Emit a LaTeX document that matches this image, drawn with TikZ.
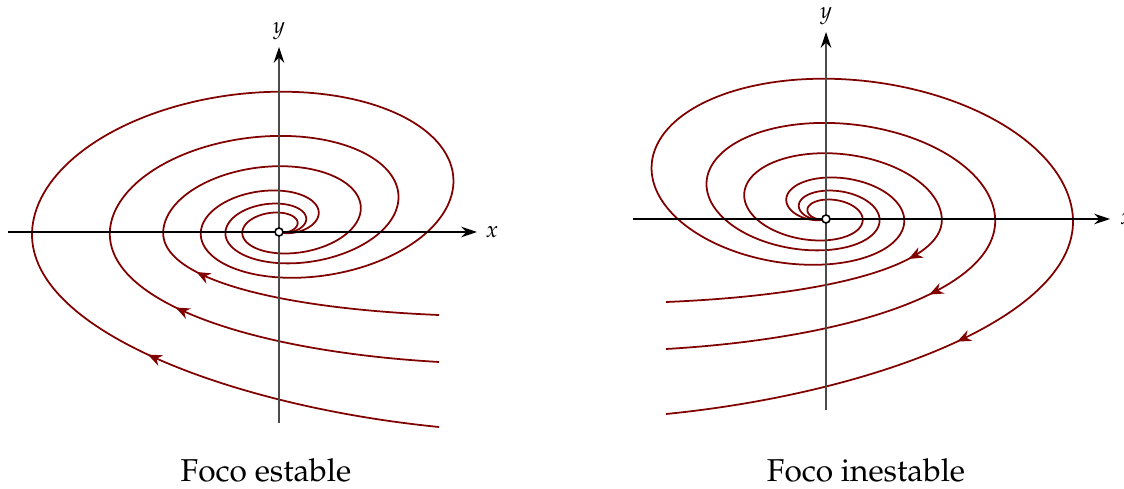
\documentclass[tikz,border=0pt]{standalone}
\usepackage[T1]{fontenc}
\usepackage{mathpazo}
\usetikzlibrary{arrows.meta,decorations.markings}
\definecolor{orbitred}{RGB}{128,0,0}

\begin{document}
\begin{tikzpicture}[
    x=0.02cm, y=0.02cm,
    haxis/.style={black, line width=1.1pt, -{Stealth[length=9pt,width=6pt]}},
    vaxis/.style={black!70, line width=0.7pt, -{Stealth[black,length=9pt,width=6pt]}},
    orbit/.style={orbitred, line width=1pt},
    flowin/.style={postaction={decorate}, decoration={markings,
        mark=at position #1 with {\arrow{Stealth[length=8pt,width=6.5pt]}}}},
    flowout/.style={postaction={decorate}, decoration={markings,
        mark=at position #1 with {\arrowreversed{Stealth[length=8pt,width=6.5pt]}}}},
    origin/.style={circle, draw=black, fill=white, line width=0.9pt,
        inner sep=0pt, minimum size=0.16cm},
    axlabel/.style={font=\fontsize{13}{15}\selectfont},
    caption/.style={font=\fontsize{18}{20}\selectfont, inner sep=1pt}
  ]
\useasboundingbox (0,-489) rectangle (1124,0);

\coordinate (O-left) at (279,-232);
\coordinate (O-right) at (826,-219);

\begin{scope}[shift={(O-left)}]
  \foreach \lam/\ty/\ca/\cb/\cc/\pos in {1/-195/-42/-175/-100/0.63,
      0.685/-130/-29/-119/-70/0.72, 0.469/-83/-9/-76/-45/0.82} {
    \draw[orbit, flowin=\pos] (160,\ty) .. controls (\ca,\cb) and ({-249*\lam},\cc)
      .. ({-247*\lam},{-\lam});
    \draw[orbit] plot[domain=-420:180, samples=300]
      ({\lam*(1-exp(-(\x+420)/60))*exp(0.00314*(\x-180))*(277*cos(\x)-40*sin(\x)+30)},
       {\lam*(1-exp(-(\x+420)/60))*exp(0.00314*(\x-180))*(41*cos(\x)+146*sin(\x)+40)});
  }
\end{scope}

\begin{scope}[shift={(O-right)}, xscale=-1]
  \foreach \lam/\ty/\ca/\cb/\cc/\pos in {1/-195/-42/-175/-100/0.63,
      0.685/-130/-29/-119/-70/0.72, 0.469/-83/-9/-76/-45/0.82} {
    \draw[orbit, flowout=\pos] (160,\ty) .. controls (\ca,\cb) and ({-249*\lam},\cc)
      .. ({-247*\lam},{-\lam});
    \draw[orbit] plot[domain=-420:180, samples=300]
      ({\lam*(1-exp(-(\x+420)/60))*exp(0.00314*(\x-180))*(277*cos(\x)-40*sin(\x)+30)},
       {\lam*(1-exp(-(\x+420)/60))*exp(0.00314*(\x-180))*(41*cos(\x)+146*sin(\x)+40)});
  }
\end{scope}

\coordinate (x-left-a) at (8,-232);
\coordinate (x-left-b) at (477,-232);
\coordinate (y-left-a) at (279,-423);
\coordinate (y-left-b) at (279,-47);
\coordinate (x-right-a) at (633,-219);
\coordinate (x-right-b) at (1110,-219);
\coordinate (y-right-a) at (826,-410);
\coordinate (y-right-b) at (826,-32);

\foreach \side in {left,right} {
  \draw[vaxis] (y-\side-a) -- (y-\side-b);
  \draw[haxis] (x-\side-a) -- (x-\side-b);
  \node[origin] (dot-\side) at (O-\side) {};
}

\node[axlabel] (xlab-left) at (492,-232) {$x$};
\node[axlabel] (ylab-left) at (279,-31) {$y$};
\node[axlabel, anchor=west] (xlab-right) at (1114,-219) {$x$};
\node[axlabel] (ylab-right) at (826,-16) {$y$};

\node[caption] (cap-left) at (266,-470) {Foco estable};
\node[caption] (cap-right) at (866,-470) {Foco inestable};
\end{tikzpicture}
\end{document}
